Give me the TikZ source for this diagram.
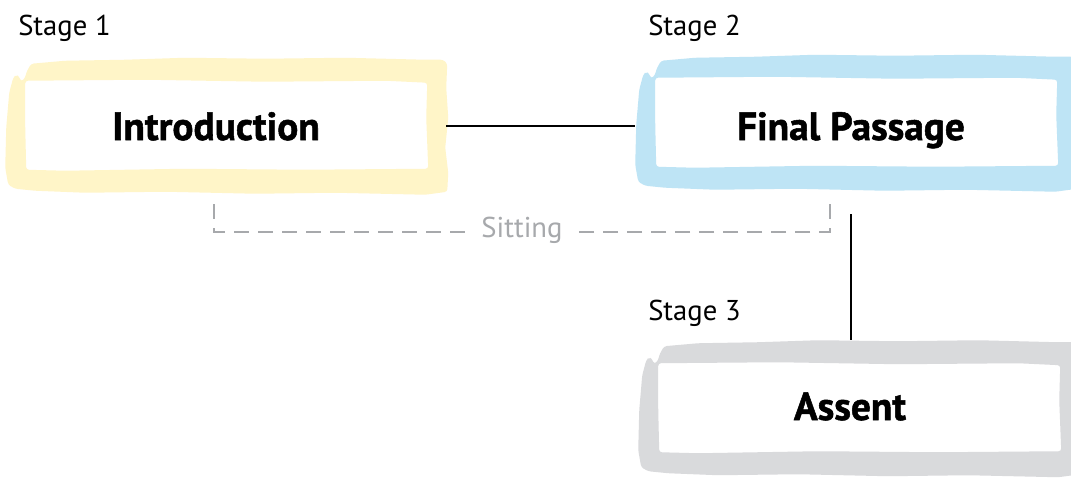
\documentclass[tikz,border=0pt]{standalone}
\usepackage{fontspec}
\setmainfont{PT Sans}
\newfontfamily\titlefont{PT Sans}[BoldFeatures={FakeBold=1.3}]
\usetikzlibrary{calc}
\definecolor{brushyellow}{RGB}{255,245,200}
\definecolor{brushblue}{RGB}{190,228,245}
\definecolor{brushgray}{RGB}{217,218,220}
\definecolor{sitgray}{RGB}{167,169,172}
\newcommand\brushframe[2]{%
  \begin{scope}[shift={(#1.north west)}]
    \fill[#2, even odd rule, rounded corners=2pt]
      (23,11) -- (26,6) -- (60,3) -- (120,2) -- (180,0) -- (260,1) -- (340,0)
      -- (420,2) -- (438,2) -- (442,6) -- (441,30) -- (443,60) -- (440,90)
      -- (443,115) -- (442,134) -- (420,137) -- (330,135) -- (250,136)
      -- (160,134) -- (80,135) -- (30,133) -- (10,131) -- (3,127) -- (0,110)
      -- (1,70) -- (4,35) -- (8,20) -- (11,17) -- (14,19) -- (16,24)
      -- (20,20) -- (21,15) -- cycle
      (20,23) -- (140,22) -- (260,24) -- (380,23) -- (422,25) -- (421,60)
      -- (423,111) -- (300,112) -- (180,111) -- (60,113) -- (21,112)
      -- (20,70) -- cycle;
  \end{scope}}
\tikzset{
  boxframe/.style={draw=none, inner sep=0pt, minimum width=331.5pt, minimum height=102pt},
  title/.style={font=\titlefont\fontsize{29.5pt}{34pt}\selectfont\bfseries, anchor=base, inner sep=0pt},
  stagelabel/.style={font=\fontsize{21.5pt}{26pt}\selectfont, anchor=base west, inner sep=0pt},
  link/.style={line width=1.6pt, black},
  sitline/.style={line width=1.5pt, sitgray, dash pattern=on 11.25pt off 6.75pt},
}
\begin{document}
\begin{tikzpicture}[x=0.75pt, y=-0.75pt]
  \useasboundingbox[fill=white] (0,0) rectangle (1071,479);
  % box placeholders (outer extents of the brush frames)
  \node[boxframe] (intro)  at (226.5,126) {};
  \node[boxframe] (final)  at (856.5,123) {};
  \node[boxframe] (assent) at (859.5,408.5) {};
  \brushframe{intro}{brushyellow}
  \brushframe{final}{brushblue}
  \brushframe{assent}{brushgray}
  % titles
  \node[title] (tintro)  at (216,140) {Introduction};
  \node[title] (tfinal)  at (851,140) {Final Passage};
  \node[title] (tassent) at (850,420) {Assent};
  % stage labels
  \node[stagelabel] (s1) at (18,35) {Stage 1};
  \node[stagelabel] (s2) at (648,35) {Stage 2};
  \node[stagelabel] (s3) at (648,320) {Stage 3};
  % connectors
  \draw[link] (446,126) coordinate (c1) -- (c1 -| final.west);
  \coordinate (v1) at (851,214);
  \draw[link] (v1) -- (v1 |- assent.north);
  % sitting bracket
  \node[font=\fontsize{21.5pt}{26pt}\selectfont, text=sitgray, anchor=base, inner sep=6pt] (sit) at (522,237) {Sitting};
  \coordinate (bl) at (214,204);
  \coordinate (br) at (830,204);
  \draw[sitline] (bl) -- (bl |- 0,232) -- (sit.west |- 0,232);
  \draw[sitline] (br) -- (br |- 0,232) -- (sit.east |- 0,232);
\end{tikzpicture}
\end{document}
